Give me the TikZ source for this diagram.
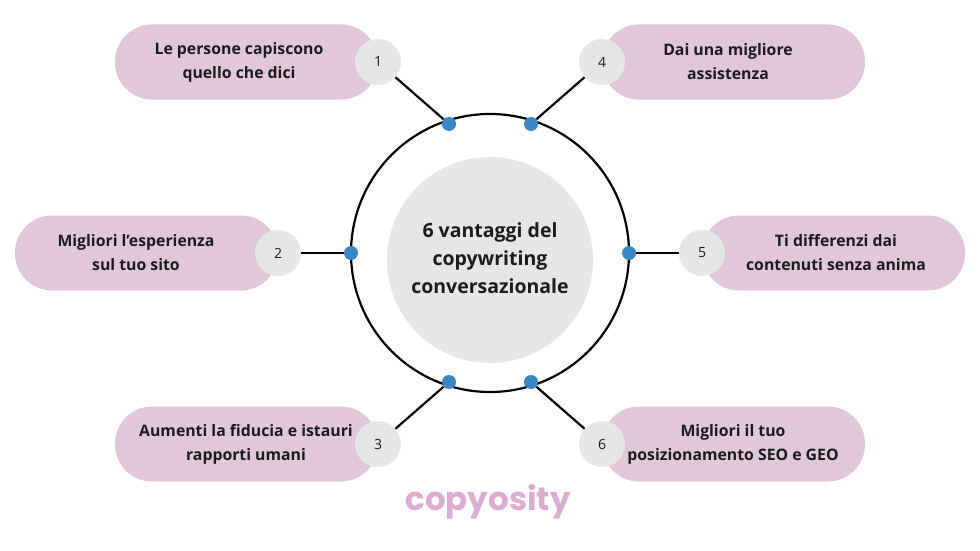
\documentclass[tikz,border=0pt]{standalone}
\usepackage{fontspec}
\setmainfont{Open Sans}
\newfontfamily\logofont{Poppins}
\definecolor{pill}{HTML}{E2C7DB}
\definecolor{numc}{HTML}{E6E6E7}
\definecolor{dotc}{HTML}{3A85C6}
\definecolor{logoc}{HTML}{DDAAD2}
\definecolor{txt}{HTML}{1C1C1C}
\tikzset{
  pillbox/.style={fill=pill, rounded corners=37pt, minimum height=75pt, minimum width=263pt, inner sep=0pt},
  numbox/.style={circle, fill=numc, minimum size=46pt, inner sep=0pt, font=\fontsize{14}{16}\selectfont, text=txt},
  dotbox/.style={circle, fill=dotc, minimum size=14pt, inner sep=0pt},
  lbl/.style={align=center, font=\fontsize{15.8}{24}\selectfont\bfseries, text=txt},
  conn/.style={line width=2.2pt, black}
}
\begin{document}
\begin{tikzpicture}[x=1pt,y=-1pt]
\useasboundingbox (0,0) rectangle (980,551);
\fill[white] (0,0) rectangle (980,551);
\node[pillbox] (p1) at (246.5,62) {};
\node[pillbox] (p4) at (733.5,62) {};
\node[pillbox] (p2) at (146.5,253) {};
\node[pillbox] (p5) at (833.5,253) {};
\node[pillbox] (p3) at (246.5,444) {};
\node[pillbox] (p6) at (733.5,444) {};
\node[lbl] (t1) at (239,62) {Le persone capiscono\\quello che dici};
\node[lbl] (t4) at (728,62) {Dai una migliore\\assistenza};
\node[lbl] (t2) at (136,253) {Migliori l'esperienza\\sul tuo sito};
\node[lbl] (t5) at (836,253) {Ti differenzi dai\\contenuti senza anima};
\node[lbl] (t3) at (246,444) {Aumenti la fiducia e istauri\\rapporti umani};
\node[lbl] (t6) at (733,444) {Migliori il tuo\\posizionamento SEO e GEO};
\draw[conn] (490,253) circle (139);
\fill[numc] (490,260) circle (103);
\node[align=center, font=\fontsize{19.5}{28}\selectfont\bfseries, text=txt] (c) at (490,258) {6 vantaggi del\\copywriting\\conversazionale};
\node[numbox] (n1) at (378,62) {1};
\node[numbox] (n4) at (602,62) {4};
\node[numbox] (n2) at (278,253) {2};
\node[numbox] (n5) at (702,253) {5};
\node[numbox] (n3) at (378,444) {3};
\node[numbox] (n6) at (602,444) {6};
\node[dotbox] (d1) at (449,124) {};
\node[dotbox] (d4) at (531,124) {};
\node[dotbox] (d2) at (351,253) {};
\node[dotbox] (d5) at (629,253) {};
\node[dotbox] (d3) at (449,382) {};
\node[dotbox] (d6) at (531,382) {};
\draw[conn] (d1) -- (n1);
\draw[conn] (d4) -- (n4);
\draw[conn] (d2) -- (n2);
\draw[conn] (d5) -- (n5);
\draw[conn] (d3) -- (n3);
\draw[conn] (d6) -- (n6);
\node[font=\logofont\fontsize{32.5}{36}\selectfont\bfseries, text=logoc] (logo) at (488,502) {copyosity};
\end{tikzpicture}
\end{document}
